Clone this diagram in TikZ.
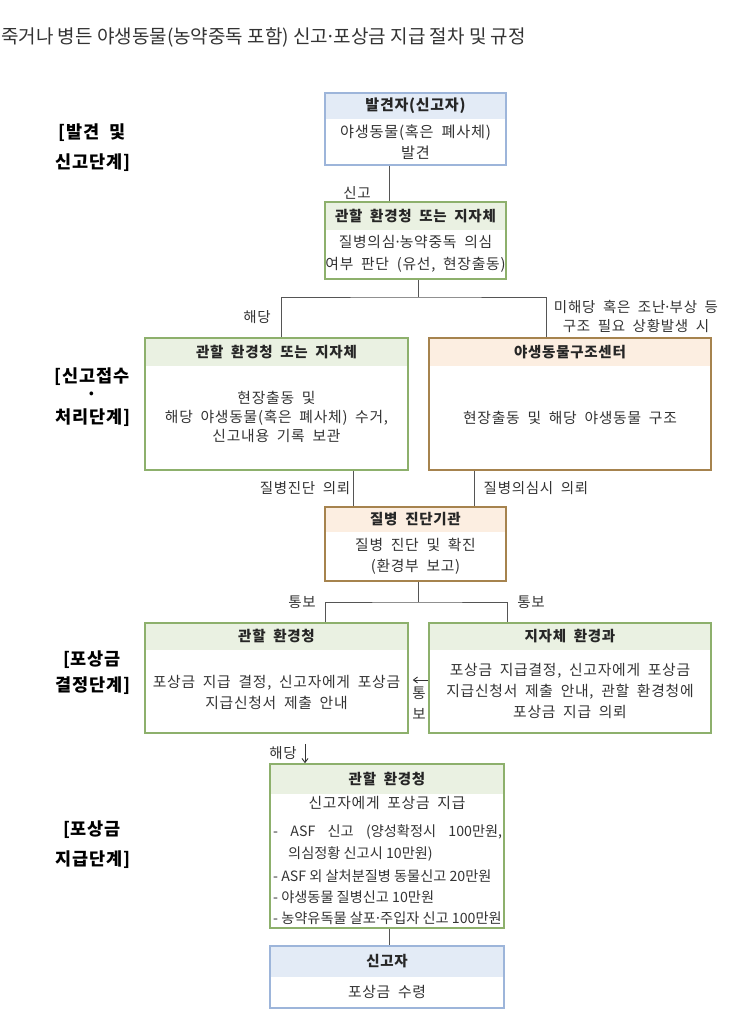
\documentclass[tikz,border=0pt]{standalone}
\usepackage{fontspec}
\setmainfont{Noto Sans CJK KR}
\newfontfamily\boxfont{Noto Sans CJK KR}[LetterSpace=5, WordSpace=1.9]
\usepackage{tikz}
\usetikzlibrary{arrows.meta}
\definecolor{blueline}{HTML}{9DB5DA}
\definecolor{bluehead}{HTML}{E3EBF6}
\definecolor{greenline}{HTML}{8DB06C}
\definecolor{greenhead}{HTML}{EAF1E2}
\definecolor{brownline}{HTML}{A6834E}
\definecolor{brownhead}{HTML}{FCEEE1}
\definecolor{inktext}{HTML}{333333}
\definecolor{wire}{HTML}{555555}
\newcommand{\middot}{\makebox[0.3em]{·}}

\begin{document}
\begin{tikzpicture}[x=1pt, y=-1pt,
	stagebox/.style={draw, line width=1.6pt, inner sep=0pt},
	head/.style 2 args={path picture={\fill[#2] (path picture bounding box.north west) rectangle ([yshift=-#1pt]path picture bounding box.north east);}},
	headtext/.style={font=\boxfont\bfseries\fontsize{14.5}{17}\selectfont, text=black!85, inner sep=0pt},
	bodytext/.style={font=\boxfont\fontsize{14.8}{21}\selectfont, text=inktext, align=center, inner sep=0pt},
	itemtext/.style={font=\fontsize{14.2}{21}\selectfont, text=inktext, anchor=west, inner sep=0pt},
	wiretext/.style={font=\boxfont\fontsize{14.5}{19}\selectfont, text=inktext, align=center, inner sep=0pt},
	phase/.style={font=\boxfont\bfseries\fontsize{17.5}{20}\selectfont, text=black, inner sep=0pt},
	link/.style={draw=wire, line width=0.9pt}]
	\useasboundingbox (0,0) rectangle (743,1034);
	% title
	\node (title) [anchor=west, font=\fontsize{19}{21}\selectfont, text=inktext, inner sep=0pt] at (1,37) {죽거나 병든 야생동물(농약중독 포함) 신고\middot 포상금 지급 절차 및 규정};
	% phase labels
	\node (ph1a) [phase] at (92,133) {[발견 및};
	\node (ph1b) [phase] at (93,163) {신고단계]};
	\node (ph2a) [phase] at (92,377) {[신고접수};
	\node (ph2b) [phase] at (92,396) {·};
	\node (ph2c) [phase] at (93,418) {처리단계]};
	\node (ph3a) [phase] at (92,660) {[포상금};
	\node (ph3b) [phase] at (93,686) {결정단계]};
	\node (ph4a) [phase] at (92,830) {[포상금};
	\node (ph4b) [phase] at (93,860) {지급단계]};
	% boxes
	\node (finder) [stagebox, draw=blueline, head={26}{bluehead}, minimum width=181pt, minimum height=72pt] at (415.5,129) {};
	\node (office) [stagebox, draw=greenline, head={28}{greenhead}, minimum width=181pt, minimum height=77pt] at (415.5,240.5) {};
	\node (localA) [stagebox, draw=greenline, head={28}{greenhead}, minimum width=263pt, minimum height=132pt] at (276.5,404) {};
	\node (rescue) [stagebox, draw=brownline, head={28}{brownhead}, minimum width=282pt, minimum height=132pt] at (570,404) {};
	\node (lab) [stagebox, draw=brownline, head={25}{brownhead}, minimum width=181pt, minimum height=74pt] at (415.5,544) {};
	\node (envA) [stagebox, draw=greenline, head={27}{greenhead}, minimum width=263pt, minimum height=110pt] at (276.5,678) {};
	\node (localB) [stagebox, draw=greenline, head={27}{greenhead}, minimum width=282pt, minimum height=110pt] at (570,678) {};
	\node (pay) [stagebox, draw=greenline, head={30}{greenhead}, minimum width=234pt, minimum height=164pt] at (387,846) {};
	\node (reporter) [stagebox, draw=blueline, head={31}{bluehead}, minimum width=234pt, minimum height=62pt] at (387,977) {};
	% box texts
	\node (finderH) [headtext, font=\boxfont\bfseries\fontsize{15}{17}\selectfont] at (415.5,106) {발견자(신고자)};
	\node (finderB) [bodytext, font=\boxfont\fontsize{15.2}{21}\selectfont] at (415.5,142.5) {야생동물(혹은 폐사체)\\발견};
	\node (officeH) [headtext] at (415.5,216) {관할 환경청 또는 지자체};
	\node (officeB) [bodytext, font=\boxfont\fontsize{14.8}{22}\selectfont] at (415.5,254) {질병의심\middot 농약중독 의심\\여부 판단 (유선, 현장출동)};
	\node (localAH) [headtext] at (276.5,352) {관할 환경청 또는 지자체};
	\node (localAB) [bodytext, font=\boxfont\fontsize{14.8}{19}\selectfont] at (276.5,417) {현장출동 및\\해당 야생동물(혹은 폐사체) 수거,\\신고내용 기록 보관};
	\node (rescueH) [headtext] at (570,352) {야생동물구조센터};
	\node (rescueB) [bodytext] at (570,418) {현장출동 및 해당 야생동물 구조};
	\node (labH) [headtext] at (415.5,519) {질병 진단기관};
	\node (labB) [bodytext] at (415.5,556.5) {질병 진단 및 확진\\(환경부 보고)};
	\node (envAH) [headtext] at (276.5,636) {관할 환경청};
	\node (envAB) [bodytext] at (276.5,692.5) {포상금 지급 결정, 신고자에게 포상금\\지급신청서 제출 안내};
	\node (localBH) [headtext] at (570,636) {지자체 환경과};
	\node (localBB) [bodytext] at (570,691) {포상금 지급결정, 신고자에게 포상금\\지급신청서 제출 안내, 관할 환경청에\\포상금 지급 의뢰};
	\node (payH) [headtext] at (387,779) {관할 환경청};
	\node (payB) [bodytext] at (387,803) {신고자에게 포상금 지급};
	\node (item1) [itemtext] at (273,832) {\makebox[229pt][s]{- ASF 신고 (양성확정시 100만원,}};
	\node (item2) [itemtext] at (288,854) {의심정황 신고시 10만원)};
	\node (item3) [itemtext] at (273,876) {- ASF 외 살처분질병 동물신고 20만원};
	\node (item4) [itemtext] at (273,897) {- 야생동물 질병신고 10만원};
	\node (item5) [itemtext] at (273,918) {- 농약유독물 살포\middot 주입자 신고 100만원};
	\node (reporterH) [headtext] at (387,961) {신고자};
	\node (reporterB) [bodytext] at (387,992) {포상금 수령};
	% connectors
	\coordinate (split1) at (418,297);
	\coordinate (split2) at (418,602);
	\draw [link] ([xshift=-26.5pt]finder.south) -- ([xshift=-26.5pt]office.north);
	\draw [link] ([xshift=2.5pt]office.south) -- (split1);
	\draw [link] ([xshift=4.5pt]localA.north) |- (split1) -| ([xshift=-24pt]rescue.north);
	\draw [link] ([xshift=76.5pt]localA.south) -- ([xshift=-62.5pt]lab.north);
	\draw [link] ([xshift=-96pt]rescue.south) -- ([xshift=58.5pt]lab.north);
	\draw [link] ([xshift=2.5pt]lab.south) -- (split2);
	\draw [link] ([xshift=48.5pt]envA.north) |- (split2) -| ([xshift=-63pt]localB.north);
	\draw [link, -{Straight Barb[length=4pt,width=6pt]}, draw=black!80] ([yshift=-2pt]localB.west) -- ([yshift=-2pt,xshift=4pt]envA.east);
	\draw [link, -{Straight Barb[length=4pt,width=6pt]}, draw=black!80, shorten <=10pt] ([xshift=28.5pt]envA.south) -- ([xshift=-82pt]pay.north);
	\draw [link] ([xshift=2pt]pay.south) -- ([xshift=2pt]reporter.north);
	% connector labels
	\node (tReport) [wiretext] at (357,193) {신고};
	\node (tYes) [wiretext] at (257,317) {해당};
	\node (tNo) [wiretext] at (636,316.5) {미해당 혹은 조난\middot 부상 등\\구조 필요 상황발생 시};
	\node (tAsk1) [wiretext] at (305,488) {질병진단 의뢰};
	\node (tAsk2) [wiretext] at (536,488) {질병의심시 의뢰};
	\node (tNote1) [wiretext] at (302,602) {통보};
	\node (tNote2) [wiretext] at (531,602) {통보};
	\node (tNote3) [wiretext, font=\boxfont\fontsize{14.5}{21}\selectfont] at (419,703.5) {통\\보};
	\node (tYes2) [wiretext] at (283,753) {해당};
\end{tikzpicture}
\end{document}
